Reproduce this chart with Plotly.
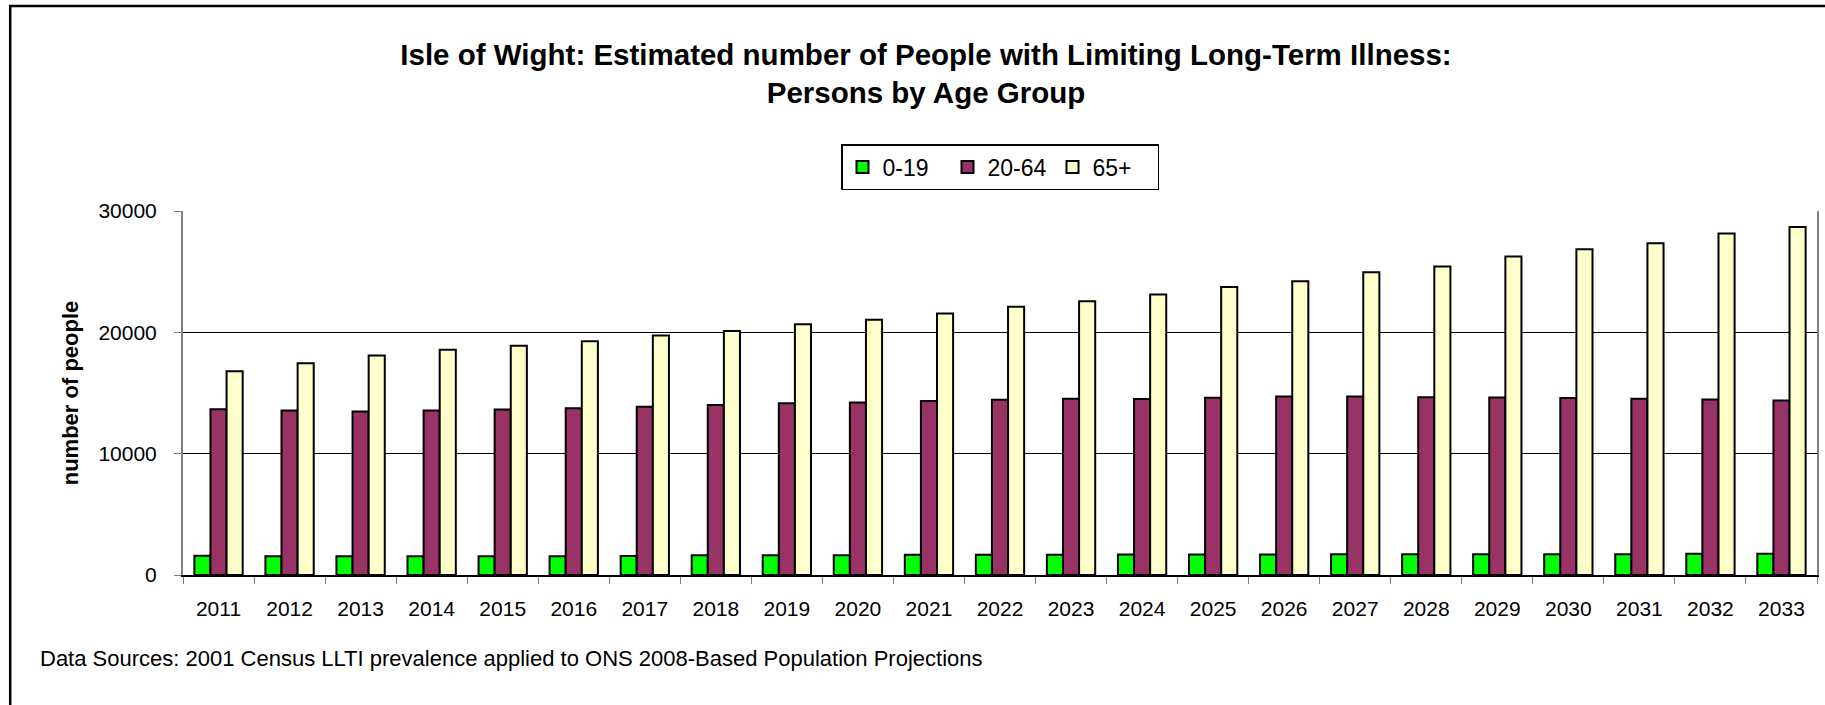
import plotly.graph_objects as go

# Data
years = [str(y) for y in range(2011, 2034)]

age_0_19 = [1590, 1540, 1540, 1540, 1540, 1540, 1560, 1620, 1620, 1620, 1670, 1670,
            1670, 1680, 1680, 1690, 1700, 1700, 1700, 1700, 1700, 1750, 1750]
age_20_64 = [13670, 13560, 13480, 13560, 13640, 13750, 13860, 14020, 14160, 14220, 14350, 14440,
             14520, 14500, 14600, 14710, 14710, 14660, 14630, 14580, 14520, 14470, 14390]
age_65_plus = [16800, 17460, 18090, 18560, 18890, 19270, 19740, 20120, 20670, 21030, 21550, 22100,
               22560, 23110, 23740, 24200, 24950, 25420, 26240, 26850, 27340, 28140, 28690]

series = [
    ("0-19", age_0_19, "#00FF00"),
    ("20-64", age_20_64, "#993366"),
    ("65+", age_65_plus, "#FFFFCC"),
]

FONT = "Liberation Sans, Arial, sans-serif"

fig = go.Figure()
for name, vals, color in series:
    fig.add_trace(go.Bar(
        x=years, y=vals, name=name,
        marker=dict(color=color, line=dict(color="black", width=2)),
    ))

fig.update_layout(
    width=1825, height=705,
    barmode="group", bargap=0.32, bargroupgap=0,
    plot_bgcolor="white", paper_bgcolor="white",
    font=dict(family=FONT, color="black", size=21),
    margin=dict(l=183, r=6, t=211, b=130),
    title=dict(
        text="<b>Isle of Wight: Estimated number of People with Limiting Long-Term Illness:<br>Persons by Age Group</b>",
        font=dict(size=29.5, family=FONT, color="black"),
        x=926 / 1825, xanchor="center", xref="container",
        y=1 - 65 / 705, yanchor="top", yref="container",
    ),
    legend=dict(
        orientation="h", x=0.5, xanchor="center", xref="paper",
        y=1 + 21 / 364, yanchor="bottom",
        bordercolor="black", borderwidth=1.5,
        font=dict(size=23), itemwidth=30,
        entrywidth=60, entrywidthmode="pixels",
        traceorder="normal",
    ),
    showlegend=True,
)

fig.update_yaxes(
    range=[0, 30000], tickvals=[0, 10000, 20000, 30000], tickformat="d",
    ticks="outside", ticklen=7, tickcolor="#808080",
    showgrid=True, gridcolor="#000000", gridwidth=1,
    showline=True, linecolor="#808080", linewidth=2, mirror=True,
    ticklabelstandoff=13, tickfont=dict(size=21),
    title=dict(text="<b>number of people</b>", font=dict(size=22), standoff=14),
    zeroline=False,
)
fig.update_xaxes(
    tickson="boundaries", ticks="outside", ticklen=7, tickcolor="#808080",
    showline=True, linecolor="#000000", linewidth=2,
    tickfont=dict(size=21), ticklabelstandoff=14,
)

fig.add_annotation(
    text="Data Sources: 2001 Census LLTI prevalence applied to ONS 2008-Based Population Projections",
    xref="paper", yref="paper", x=(38 - 183) / 1636, y=(575 - 658) / 364,
    xanchor="left", yanchor="middle", showarrow=False, font=dict(size=22),
)

# outer chart border (cut off on the right and bottom in the reference)
fig.add_shape(
    type="rect", xref="paper", yref="paper",
    x0=(10 - 183) / 1636, x1=(1840 - 183) / 1636,
    y0=(575 - 720) / 364, y1=(575 - 6) / 364,
    line=dict(color="black", width=2.5), layer="below",
)

# the page's default body margin would push the figure 8px off the window origin
fig.write_html("out.html", config={"displayModeBar": False},
               post_script="document.body.style.margin='0';")
